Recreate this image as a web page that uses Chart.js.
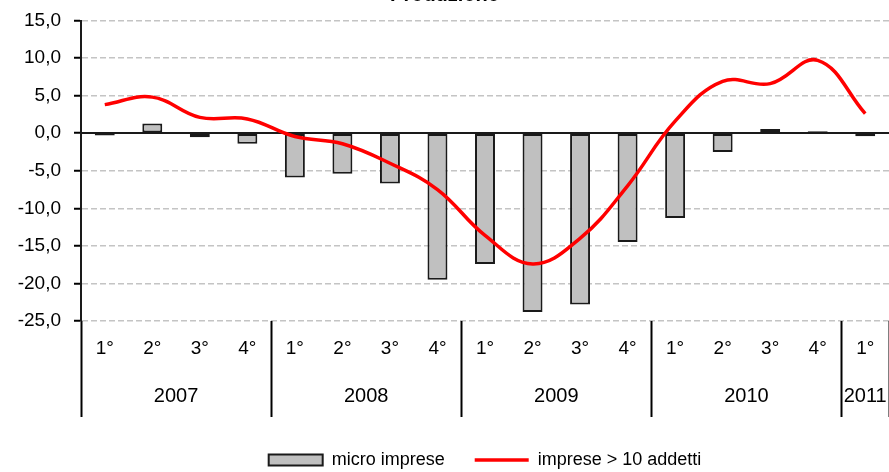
<!DOCTYPE html>
<html>
<head>
<meta charset="utf-8">
<script src="https://cdn.jsdelivr.net/npm/chart.js@4/dist/chart.umd.min.js"></script>
<style>
  html, body { margin: 0; padding: 0; background: #fff; }
</style>
</head>
<body>
<canvas id="chart" width="889" height="472"></canvas>
<script>
"use strict";

// quarters along the x axis, grouped by year
const quarters = ["1°", "2°", "3°", "4°", "1°", "2°", "3°", "4°", "1°", "2°", "3°", "4°", "1°", "2°", "3°", "4°", "1°"];
const years = ["2007", "2008", "2009", "2010", "2011"];
const quartersPerYear = [4, 4, 4, 4, 1];

// variazioni %
const microImprese = [-0.3, 1.3, -0.55, -1.4, -5.9, -5.4, -6.7, -19.5, -17.4, -23.8, -22.8, -14.5, -11.3, -2.5, 0.55, 0.25, -0.4];
const impreseOltre10 = [3.8, 4.8, 2.1, 1.9, -0.45, -1.4, -4.0, -7.5, -13.6, -17.4, -14.0, -7.0, 1.6, 6.9, 6.6, 9.7, 2.6];

const yTicks = { min: -25, max: 15, step: 5 };

// year boundaries and centres, in category units
const yearStarts = [];
const yearCentres = [];
let acc = 0;
quartersPerYear.forEach((n) => {
  yearStarts.push(acc);
  yearCentres.push(acc + n / 2);
  acc += n;
});

const fontFamily = "'Liberation Sans', Arial, sans-serif";

const noSidePadding = (scale) => {
  scale.paddingLeft = 0;
  scale.paddingRight = 0;
};

const ctx = document.getElementById("chart").getContext("2d");
const chart = new Chart(ctx, {
  type: "bar",
  data: {
    labels: quarters,
    datasets: [
      {
        type: "bar",
        label: "micro imprese",
        data: microImprese,
        backgroundColor: "#c0c0c0",
        borderColor: "#1a1a1a",
        borderWidth: 2,
        borderSkipped: false,
        barPercentage: 0.42,
        categoryPercentage: 1.0,
        pointStyle: "rect",
        order: 2,
      },
      {
        type: "line",
        label: "imprese > 10 addetti",
        data: impreseOltre10,
        borderColor: "#ff0000",
        backgroundColor: "#ff0000",
        borderWidth: 3.5,
        pointRadius: 0,
        tension: 0.4,
        fill: false,
        pointStyle: "line",
        order: 1,
      },
    ],
  },
  options: {
    responsive: false,
    animation: false,
    devicePixelRatio: 1,
    layout: { padding: { left: 0, right: 0, top: 0, bottom: -7 } },
    scales: {
      y: {
        min: yTicks.min,
        max: yTicks.max,
        ticks: {
          stepSize: yTicks.step,
          color: "#000",
          padding: 13,
          font: { family: fontFamily, size: 19 },
          callback: (v) => v.toFixed(1).replace(".", ","),
        },
        grid: {
          color: "#c4c4c4",
          lineWidth: 1.5,
          tickColor: "#000",
          tickLength: 7,
          tickWidth: 2,
        },
        border: { display: true, color: "#1a1a1a", width: 2, dash: [6, 3] },
        afterFit: (scale) => {
          scale.width = 81;
          scale.paddingTop = 0;
          scale.paddingBottom = 0;
        },
      },
      x: {
        offset: true,
        grid: {
          offset: true,
          drawOnChartArea: false,
          tickLength: 96,
          tickWidth: 2,
          color: "transparent",
          tickColor: (c) => (c.index === undefined || yearStarts.includes(c.index)) ? "#000" : "transparent",
        },
        border: { display: false },
        ticks: {
          color: "#000",
          padding: -80,
          autoSkip: false,
          maxRotation: 0,
          font: { family: fontFamily, size: 19 },
        },
        afterFit: (scale) => {
          scale.height = 46;
          noSidePadding(scale);
        },
      },
      xYear: {
        axis: "x",
        type: "linear",
        position: "bottom",
        min: 0,
        max: quarters.length,
        offset: false,
        grid: { display: false, drawTicks: false },
        border: { display: false },
        afterBuildTicks: (scale) => {
          scale.ticks = yearCentres.map((v) => ({ value: v }));
        },
        ticks: {
          color: "#000",
          padding: 17,
          autoSkip: false,
          maxRotation: 0,
          font: { family: fontFamily, size: 20 },
          callback: (v, i) => years[i],
        },
        afterFit: (scale) => {
          scale.height = 54;
          noSidePadding(scale);
        },
      },
      // solid line at zero
      x0: {
        axis: "x",
        type: "category",
        position: { y: 0 },
        offset: true,
        grid: { display: false },
        ticks: { display: false },
        border: { display: true, color: "#1a1a1a", width: 2 },
      },
    },
    plugins: {
      title: {
        display: true,
        text: "Produzione",
        color: "#000",
        font: { family: fontFamily, size: 20, weight: "bold" },
        padding: { top: -17, bottom: 13.5 },
      },
      legend: {
        position: "bottom",
        fullSize: false,
        labels: {
          usePointStyle: true,
          pointStyleWidth: 54,
          boxHeight: 11,
          padding: 30,
          color: "#000",
          font: { family: fontFamily, size: 18 },
          sort: (a, b) => a.datasetIndex - b.datasetIndex,
        },
      },
      tooltip: { enabled: false },
    },
  },
});
</script>
</body>
</html>
